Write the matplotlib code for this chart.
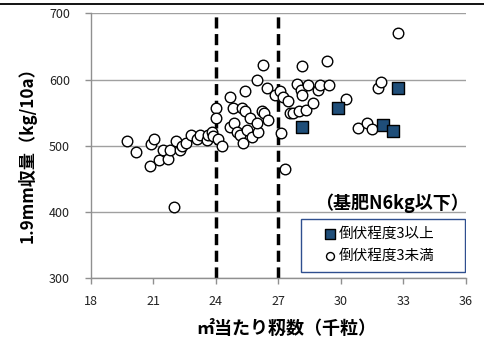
import matplotlib
matplotlib.use("Agg")
import matplotlib.pyplot as plt
from matplotlib.lines import Line2D
from matplotlib.patches import Rectangle

plt.rcParams['font.family'] = ['Noto Sans CJK JP', 'DejaVu Sans']

# lodging degree >= 3
hi_x = [28.12, 29.85, 32.0, 32.48, 32.72]
hi_y = [529, 557, 531, 523, 588]

# lodging degree < 3
lo_x = [19.73, 20.17, 20.85, 20.88, 21.04, 21.26, 21.49, 21.72, 21.8, 22.0,
        22.08, 22.28, 22.36, 22.57, 22.8, 23.08, 23.24, 23.56, 23.64, 23.8,
        23.88, 24.01, 24.01, 24.09, 24.28, 24.68, 24.68, 24.84, 24.87, 25.0,
        25.16, 25.32, 25.24, 25.4, 25.4, 25.48, 25.64, 25.72, 25.96, 26.04,
        25.96, 26.2, 26.25, 26.31, 26.44, 26.52, 26.84, 27.08, 27.11, 27.2,
        27.32, 27.48, 27.56, 27.72, 27.91, 28.01, 28.07, 28.12, 28.12, 28.33,
        28.44, 28.68, 28.92, 29.0, 29.45, 29.35, 30.23, 30.81, 31.24, 31.48,
        31.8, 31.93, 32.72]
lo_y = [507, 491, 469, 502, 510, 479, 494, 480, 494, 407,
        507, 493, 499, 504, 516, 511, 517, 509, 516, 521,
        515, 557, 542, 511, 499, 574, 529, 557, 534, 521,
        516, 504, 557, 583, 552, 524, 542, 514, 599, 521,
        534, 552, 622, 549, 587, 539, 577, 582, 520, 574,
        465, 567, 549, 549, 594, 552, 584, 621, 577, 554,
        592, 564, 584, 592, 592, 628, 570, 527, 535, 525,
        588, 597, 670]

x_ticks = [18, 21, 24, 27, 30, 33, 36]
y_ticks = [300, 400, 500, 600, 700]
ref_lines = [24, 27]

fig = plt.figure(figsize=(4.84, 3.43), dpi=100)
ax = fig.add_axes([0.1874, 0.1886, 0.7754, 0.7726])

ax.set_xlim(18, 36)
ax.set_ylim(300, 700)
ax.set_xticks(x_ticks)
ax.set_yticks(y_ticks)
ax.grid(axis='y', color='#a0a0a0', linewidth=1.0)
ax.set_axisbelow(True)
for s in ['top', 'right']:
    ax.spines[s].set_visible(False)
for s in ['left', 'bottom']:
    ax.spines[s].set_color('#909090')
    ax.spines[s].set_linewidth(1.0)
ax.tick_params(axis='x', colors='#909090', length=4, width=1, pad=8, labelsize=9, labelcolor='#222222')
ax.tick_params(axis='y', colors='#909090', length=4, width=1, pad=11, labelsize=9, labelcolor='#222222')

for xv in ref_lines:
    ax.axvline(xv, color='black', linewidth=2.5, linestyle=(0, (3.2, 1.6)), zorder=2)

ax.scatter(lo_x, lo_y, s=58, facecolors='white', edgecolors='black', linewidths=1.0, zorder=3,
           label='倒伏程度3未満')
ax.scatter(hi_x, hi_y, s=75, marker='s', facecolors='#1f4e79', edgecolors='black', linewidths=1.0,
           zorder=4, label='倒伏程度3以上')

# legend frame
ax.add_patch(Rectangle((0.5596, 0.025), 0.4377, 0.1976, transform=ax.transAxes,
                       facecolor='white', edgecolor='#2f4f8f', linewidth=1.0, zorder=5))
handles, labels = ax.get_legend_handles_labels()
leg = ax.legend([handles[1], handles[0]], [labels[1], labels[0]],
                loc='center left', bbox_to_anchor=(0.6217, 0.128), fontsize=10.5,
                frameon=False, handletextpad=0.2, borderpad=0, labelspacing=0.55,
                handlelength=0.8, markerscale=0.75, borderaxespad=0)
leg.set_zorder(6)

ax.text(0.802, 0.283, '（基肥N6kg以下）', transform=ax.transAxes, ha='center', va='center',
        fontsize=13, fontweight='bold')

ax.set_xlabel('㎡当たり籾数（千粒）', fontsize=13, fontweight='bold')
ax.set_ylabel('1.9mm収量（kg/10a）', fontsize=12.3, fontweight='bold')
ax.xaxis.set_label_coords(0.52, -0.155)
ax.yaxis.set_label_coords(-0.143, 0.48)

fig.add_artist(Line2D([0, 1], [0.988, 0.988], color='black', linewidth=1.3, transform=fig.transFigure))

fig.savefig('out.png', dpi=100)
